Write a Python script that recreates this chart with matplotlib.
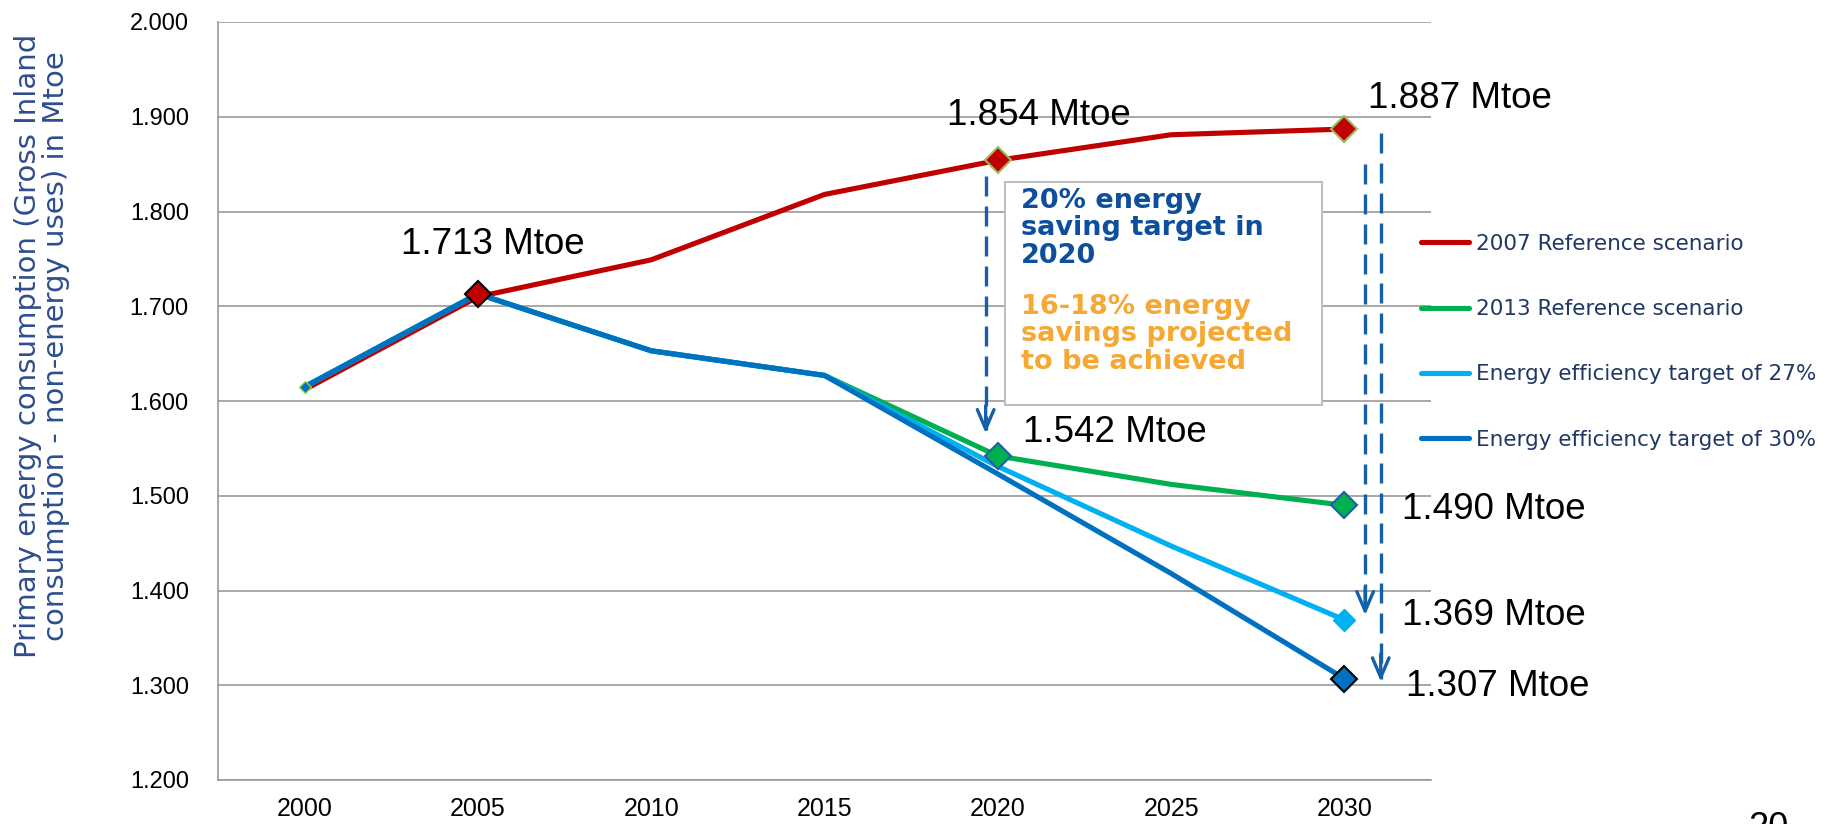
import matplotlib
matplotlib.use('Agg')
import matplotlib.pyplot as plt
from matplotlib.patches import Rectangle

## data
years = ['2000', '2005', '2010', '2015', '2020', '2025', '2030']
ref_2007 = [1.612, 1.710, 1.749, 1.818, 1.854, 1.881, 1.887]
ref_2013 = [1.615, 1.713, 1.653, 1.627, 1.542, 1.512, 1.490]
eff_27 = [1.615, 1.713, 1.653, 1.627, 1.531, 1.447, 1.369]
eff_30 = [1.615, 1.713, 1.653, 1.627, 1.523, 1.418, 1.307]
y_ticks = [1.2, 1.3, 1.4, 1.5, 1.6, 1.7, 1.8, 1.9, 2.0]
y_tick_labels = ['1.200', '1.300', '1.400', '1.500', '1.600', '1.700', '1.800', '1.900', '2.000']

series_names = ['2007 Reference scenario', '2013 Reference scenario',
                'Energy efficiency target of 27%', 'Energy efficiency target of 30%']

## labelled points: label text and where it sits
callouts = [
    ('1.713 Mtoe', 1.085, 1.765),
    ('1.854 Mtoe', 4.235, 1.901),
    ('1.887 Mtoe', 6.665, 1.919),
    ('1.542 Mtoe', 4.674, 1.567),
    ('1.490 Mtoe', 6.86, 1.485),
    ('1.369 Mtoe', 6.86, 1.374),
    ('1.307 Mtoe', 6.885, 1.299),
]

red = '#C00000'
green = '#00B050'
light_blue = '#00B0F0'
dark_blue = '#0070C0'
arrow_blue = '#1560A8'

fig = plt.figure(figsize=(18.39, 8.24), dpi=100)
ax = fig.add_axes([218/1839, 1 - 780/824, (1431-218)/1839, (780-22)/824])

x = list(range(len(years)))

ax.plot(x, ref_2007, color=red, lw=3.7, zorder=3, solid_capstyle='round')
ax.plot(x, ref_2013, color=green, lw=3.7, zorder=4, solid_capstyle='round')
ax.plot(x, eff_27, color=light_blue, lw=3.7, zorder=5, solid_capstyle='round')
ax.plot(x, eff_30, color=dark_blue, lw=3.7, zorder=6, solid_capstyle='round')

## markers
ax.plot(x[0], eff_30[0], 'D', ms=6, mfc=dark_blue, mec='#92D050', mew=1, zorder=7)
ax.plot(x[1], ref_2013[1], 'D', ms=13, mfc=red, mec='black', mew=1.5, zorder=7)
ax.plot([x[4], x[6]], [ref_2007[4], ref_2007[6]], 'D', ms=13, mfc=red, mec='#9BBB59', mew=1.5, zorder=7)
ax.plot([x[4], x[6]], [ref_2013[4], ref_2013[6]], 'D', ms=13, mfc=green, mec='#1F5FA8', mew=1.5, zorder=7)
ax.plot(x[6], eff_27[6], 'D', ms=11, mfc=light_blue, mec=light_blue, mew=1, zorder=7)
ax.plot(x[6], eff_30[6], 'D', ms=13, mfc=dark_blue, mec='black', mew=1.5, zorder=7)

for label, tx, ty in callouts:
    ax.text(tx, ty, label, fontsize=26.5, family='Liberation Sans', ha='center', va='center',
            color='black', zorder=9, clip_on=False)

## dashed arrows
arrows = [(3.93, 1.837, 1.563), (6.12, 1.850, 1.371), (6.21, 1.883, 1.301)]
for ax_x, y_top, y_tip in arrows:
    ax.plot([ax_x, ax_x], [y_top, y_tip + 0.006], color=arrow_blue, lw=2.4,
            ls=(0, (6, 3)), zorder=8, clip_on=False)
    ax.annotate('', xy=(ax_x, y_tip), xytext=(ax_x, y_tip + 0.035),
                arrowprops=dict(arrowstyle='->,head_width=0.6,head_length=1.4',
                                color=arrow_blue, lw=2.4), zorder=8, annotation_clip=False)

## text box
box = Rectangle((4.04, 1.596), 1.83, 0.235, facecolor='white', edgecolor='#BFBFBF',
                lw=1.5, zorder=2)
ax.add_patch(box)
ax.text(4.135, 1.825, '20% energy\nsaving target in\n2020', fontsize=19.5, fontweight='bold',
        color='#0E4F9C', family='DejaVu Sans', va='top', ha='left', linespacing=1.07, zorder=9)
ax.text(4.135, 1.713, '16-18% energy\nsavings projected\nto be achieved', fontsize=19.5,
        fontweight='bold', color='#F5A833', family='DejaVu Sans', va='top', ha='left',
        linespacing=1.07, zorder=9)

## axes styling
ax.set_xlim(-0.5, 6.5)
ax.set_ylim(1.2, 2.0)
ax.set_yticks(y_ticks)
ax.set_yticklabels(y_tick_labels)
ax.set_xticks(x)
ax.set_xticklabels(years)
ax.tick_params(axis='y', length=0, pad=21, labelsize=17)
ax.tick_params(axis='x', length=0, pad=12, labelsize=18)
for lab in ax.get_xticklabels() + ax.get_yticklabels():
    lab.set_family('Liberation Sans')
ax.grid(axis='y', color='#999999', lw=1.2, zorder=0)
ax.set_axisbelow(True)
for s in ['top', 'right']:
    ax.spines[s].set_visible(False)
for s in ['left', 'bottom']:
    ax.spines[s].set_color('#999999')
    ax.spines[s].set_linewidth(1.2)

## legend
handles = [plt.Line2D([], [], color=c, lw=3.7, solid_capstyle='round')
           for c in [red, green, light_blue, dark_blue]]
leg = fig.legend(handles, series_names, loc='upper left', bbox_to_anchor=(1421/1839, 0.716),
                 frameon=False, fontsize=15.5, handlelength=2.25, handletextpad=0.3,
                 labelspacing=2.1, borderpad=0, borderaxespad=0)
for t in leg.get_texts():
    t.set_color('#1F3864')

## y label
fig.text(42/1839, 1 - 346/824,
         'Primary energy consumption (Gross Inland\nconsumption - non-energy uses) in Mtoe',
         rotation=90, ha='center', va='center', multialignment='center',
         fontsize=21, color='#2E4D8E', linespacing=1.0)

## page number, cut off at the bottom like the slide
fig.text(1768/1839, -0.017, '20', fontsize=26, family='Liberation Sans', ha='center',
         va='baseline', color='black')

fig.savefig('out.png', dpi=100)
